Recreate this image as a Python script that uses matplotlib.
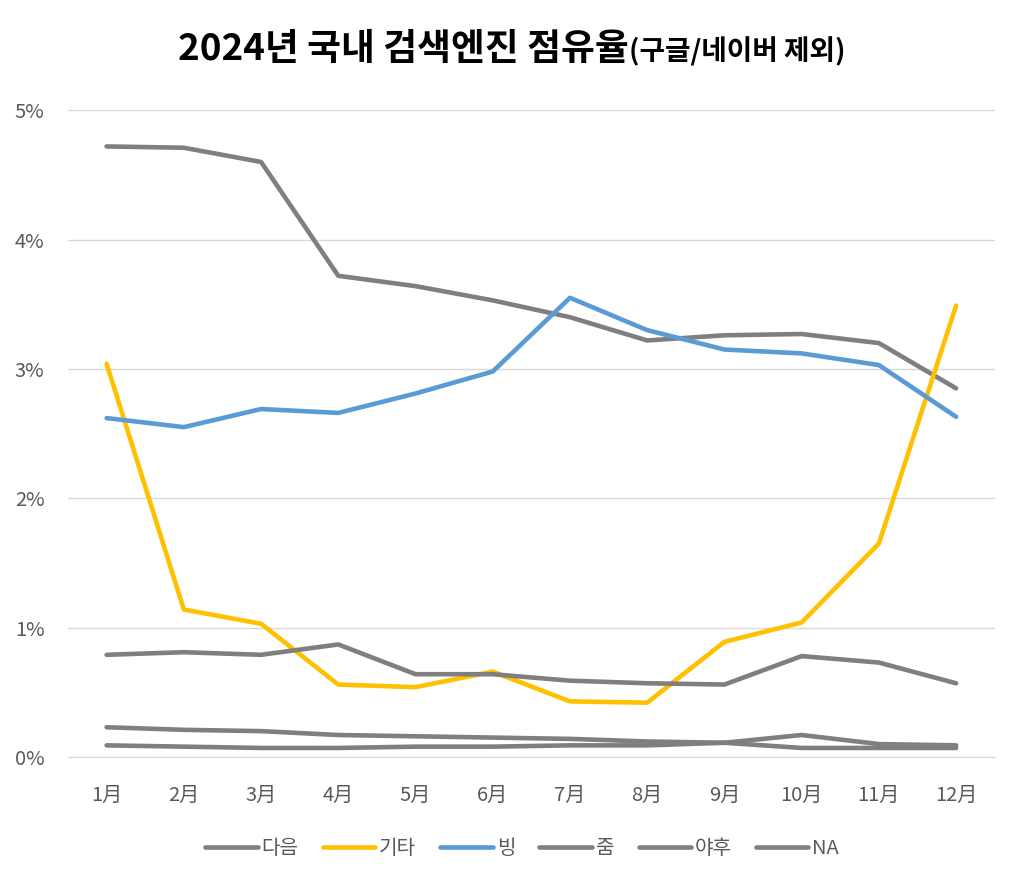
import matplotlib.pyplot as plt
from matplotlib.ticker import FuncFormatter

plt.rcParams['font.family'] = ['Noto Sans CJK KR', 'DejaVu Sans']

months = ['1月', '2月', '3月', '4月', '5月', '6月', '7月', '8月', '9月', '10月', '11月', '12月']

# share values in %
daum = [4.72, 4.71, 4.60, 3.72, 3.64, 3.53, 3.40, 3.22, 3.26, 3.27, 3.20, 2.85]
etc = [3.04, 1.14, 1.03, 0.56, 0.54, 0.66, 0.43, 0.42, 0.89, 1.04, 1.65, 3.49]
bing = [2.62, 2.55, 2.69, 2.66, 2.81, 2.98, 3.55, 3.30, 3.15, 3.12, 3.03, 2.63]
zum = [0.79, 0.81, 0.79, 0.87, 0.64, 0.64, 0.59, 0.57, 0.56, 0.78, 0.73, 0.57]
yahoo = [0.23, 0.21, 0.20, 0.17, 0.16, 0.15, 0.14, 0.12, 0.11, 0.07, 0.07, 0.07]
na = [0.09, 0.08, 0.07, 0.07, 0.08, 0.08, 0.09, 0.09, 0.11, 0.17, 0.10, 0.09]

series = [
    ('다음', daum, '#7f7f7f'),
    ('기타', etc, '#ffc000'),
    ('빙', bing, '#5b9bd5'),
    ('줌', zum, '#7f7f7f'),
    ('야후', yahoo, '#7f7f7f'),
    ('NA', na, '#7f7f7f'),
]

fig = plt.figure(figsize=(10.24, 8.86), dpi=100)
ax = fig.add_axes([0.0664, 0.1456, 0.905, 0.730])

x = list(range(len(months)))
for name, vals, color in series:
    ax.plot(x, [v / 100 for v in vals], color=color, lw=3.3,
            solid_capstyle='round', solid_joinstyle='round', label=name)

ax.set_xlim(-0.5, len(months) - 0.5)
ax.set_ylim(0, 0.05)
ax.set_yticks([0, 0.01, 0.02, 0.03, 0.04, 0.05])
ax.yaxis.set_major_formatter(FuncFormatter(lambda v, p: f'{v * 100:.0f}%'))
ax.set_xticks(x)
ax.set_xticklabels(months)
ax.grid(axis='y', color='#d9d9d9', lw=1)
ax.set_axisbelow(True)
for s in ['top', 'right', 'left']:
    ax.spines[s].set_visible(False)
ax.spines['bottom'].set_color('#d9d9d9')
ax.tick_params(length=0, labelsize=14.5, colors='#595959')
ax.tick_params(axis='x', pad=20)
ax.tick_params(axis='y', pad=17)

# title in two sizes
fig.text(0.614, 0.932, '2024년 국내 검색엔진 점유율', ha='right', va='baseline',
         fontsize=26.5, fontweight='bold')
fig.text(0.614, 0.932, '(구글/네이버 제외)', ha='left', va='baseline',
         fontsize=20, fontweight='bold')

fig.legend(loc='center', bbox_to_anchor=(0.51, 0.042), ncol=6, frameon=False,
           fontsize=14.5, handlelength=2.6, columnspacing=1.2, handletextpad=0.2,
           labelcolor='#595959')

plt.savefig('out.png')
